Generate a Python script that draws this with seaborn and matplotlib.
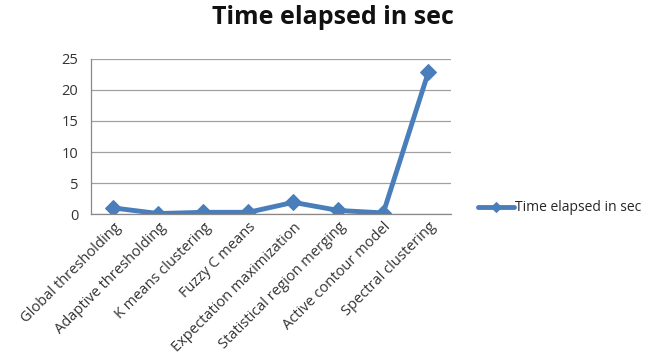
import numpy as np
import pandas as pd
import seaborn as sns
import matplotlib.pyplot as plt
from matplotlib.ticker import FixedLocator, NullFormatter

methods = ['Global thresholding', 'Adaptive thresholding', 'K means clustering',
           'Fuzzy C means', 'Expectation maximization', 'Statistical region merging',
           'Active contour model', 'Spectral clustering']
time_sec = [1.0, 0.1, 0.3, 0.3, 1.9, 0.6, 0.2, 22.8]
series_name = 'Time elapsed in sec'

df = pd.DataFrame({'method': methods, 'time': time_sec})

sns.set_style('white')
plt.rcParams['font.family'] = ['Open Sans', 'DejaVu Sans']

fig = plt.figure(figsize=(6.59, 3.63), dpi=100)
ax = fig.add_axes([0.138, 0.41, 0.546, 0.428])

blue = '#4a7ebb'
sns.lineplot(data=df, x='method', y='time', ax=ax, color=blue, linewidth=3.5,
             marker='D', markersize=8, markeredgecolor=blue, label=series_name,
             sort=False)

ax.set_xlim(-0.5, len(methods) - 0.5)
ax.set_ylim(0, 25)
ax.set_yticks([0, 5, 10, 15, 20, 25])
ax.yaxis.grid(True, color='#a0a0a0', linewidth=0.9)
ax.set_axisbelow(True)

ax.set_xticks(range(len(methods)))
ax.set_xticklabels(methods, rotation=45, ha='right', rotation_mode='anchor',
                   fontsize=10.5, color='#333333')
ax.xaxis.set_minor_locator(FixedLocator(np.arange(-0.5, len(methods), 1.0)))
ax.xaxis.set_minor_formatter(NullFormatter())
ax.tick_params(axis='x', which='major', length=0, pad=4)
ax.tick_params(axis='x', which='minor', length=5, color='#888888', width=0.9)
ax.tick_params(axis='y', length=4, color='#888888', width=0.9, labelsize=10.5,
               labelcolor='#333333', pad=5)
ax.set_xlabel('')
ax.set_ylabel('')

for side in ['top', 'right']:
    ax.spines[side].set_visible(False)
for side in ['left', 'bottom']:
    ax.spines[side].set_color('#888888')
    ax.spines[side].set_linewidth(0.9)

fig.suptitle(series_name, x=0.505, y=0.985, fontsize=18, fontweight='bold',
             color='#111111')

ax.legend(loc='center left', bbox_to_anchor=(1.04, 0.04), frameon=False,
          fontsize=10, handlelength=2.6, handletextpad=0.1, markerscale=0.6)

fig.savefig('out.png', dpi=100)
